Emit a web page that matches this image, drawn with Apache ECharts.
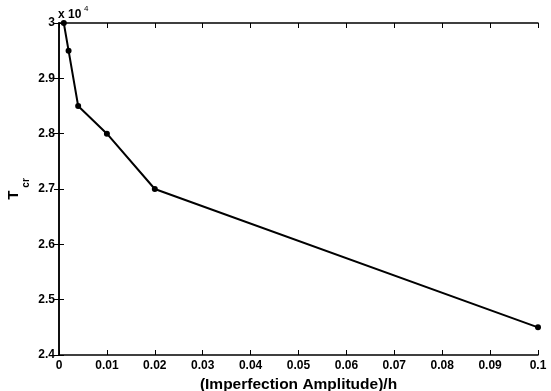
<!DOCTYPE html>
<html>
<head>
<meta charset="utf-8">
<script src="https://cdn.jsdelivr.net/npm/echarts@6/dist/echarts.min.js"></script>
<style>
  html, body { margin: 0; padding: 0; background: #fff; }
  #chart { width: 551px; height: 391px; }
</style>
</head>
<body>
<div id="chart"></div>
<script>
// imperfection amplitude / h
const amplitude = [0.001, 0.002, 0.004, 0.01, 0.02, 0.1];
// critical T
const tcr = [30000, 29500, 28500, 28000, 27000, 24500];

const font = 'Liberation Sans, Arial, Helvetica, sans-serif';

const chart = echarts.init(document.getElementById('chart'), null, {renderer: 'canvas'});

const frameAxis = {
  axisLine: {show: true, lineStyle: {color: '#000', width: 1.5}},
  axisTick: {show: true, inside: true, length: 5, lineStyle: {color: '#000', width: 1}},
  axisLabel: {show: false},
  splitLine: {show: false}
};

chart.setOption({
  animation: false,
  grid: {left: 59, right: 13, top: 23, bottom: 36, outerBoundsMode: 'none', containLabel: false},
  graphic: [{
    type: 'text', left: 58, top: 9,
    style: {text: 'x 10', font: 'bold 12px ' + font, fill: '#000'}
  }, {
    type: 'text', left: 84, top: 5,
    style: {text: '4', font: '8px ' + font, fill: '#000'}
  }],
  xAxis: [{
    type: 'value', min: 0, max: 0.1, interval: 0.01,
    name: '(Imperfection Amplitude)/h',
    nameLocation: 'middle', nameGap: 22, nameMoveOverlap: false,
    nameTextStyle: {fontFamily: font, fontSize: 15.5, fontWeight: 'bold', color: '#000'},
    axisLine: {show: true, lineStyle: {color: '#000', width: 1.5}},
    axisTick: {show: true, inside: true, length: 5, lineStyle: {color: '#000'}},
    axisLabel: {
      fontFamily: font, fontSize: 12, fontWeight: 'bold', color: '#000', margin: 5,
      formatter: v => +v.toFixed(2) + ''
    },
    splitLine: {show: false}
  }, Object.assign({type: 'value', position: 'top', min: 0, max: 0.1, interval: 0.01}, frameAxis)],
  yAxis: [{
    type: 'value', min: 24000, max: 30000, interval: 1000,
    name: '{t|T}{s|cr}',
    nameLocation: 'middle', nameGap: 28, nameRotate: 90, nameMoveOverlap: false,
    nameTextStyle: {
      rich: {
        t: {fontFamily: font, fontSize: 15, fontWeight: 'bold', color: '#000'},
        s: {fontFamily: font, fontSize: 10, fontWeight: 'bold', color: '#000', padding: [24, 0, 0, 3]}
      }
    },
    axisLine: {show: true, lineStyle: {color: '#000', width: 1.5}},
    axisTick: {show: true, inside: true, length: 5, lineStyle: {color: '#000'}},
    axisLabel: {
      fontFamily: font, fontSize: 12, fontWeight: 'bold', color: '#000', margin: 4,
      formatter: v => +(v / 10000).toFixed(1) + ''
    },
    splitLine: {show: false}
  }, Object.assign({type: 'value', position: 'right', min: 24000, max: 30000, interval: 1000}, frameAxis)],
  series: [{
    type: 'line',
    data: amplitude.map((a, i) => [a, tcr[i]]),
    symbol: 'circle', symbolSize: 6,
    lineStyle: {color: '#000', width: 2},
    itemStyle: {color: '#000'},
    clip: false
  }]
});
</script>
</body>
</html>
